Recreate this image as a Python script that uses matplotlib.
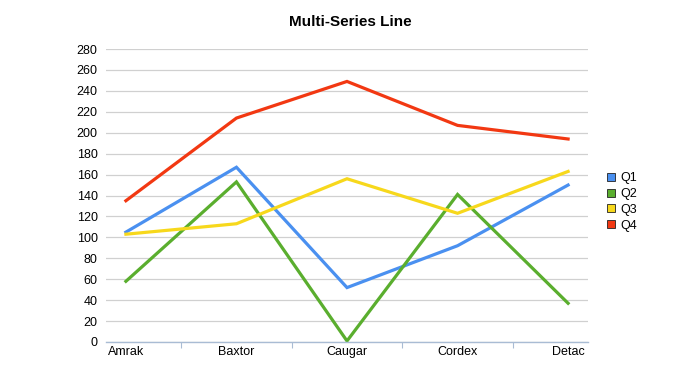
import numpy as np
import matplotlib.pyplot as plt
from matplotlib.lines import Line2D

plt.rcParams['font.family'] = ['Liberation Sans', 'DejaVu Sans']

categories = ['Amrak', 'Baxtor', 'Caugar', 'Cordex', 'Detac']
series_names = ['Q1', 'Q2', 'Q3', 'Q4']
q1 = [105, 167, 52, 92, 150]
q2 = [58, 153, 1, 141, 37]
q3 = [103, 113, 156, 123, 163]
q4 = [135, 214, 249, 207, 194]
colors = ['#4a90f0', '#5aae2e', '#f7d81c', '#f23812']

fig = plt.figure(figsize=(7, 3.75), dpi=100)
ax = fig.add_axes([106 / 700, 1 - 342 / 375, 482 / 700, 293 / 375])

x = np.arange(len(categories))
for vals, c, name in zip([q1, q2, q3, q4], colors, series_names):
    ax.plot(x, vals, color=c, linewidth=2.3, label=name, solid_joinstyle='miter')

ax.set_xlim(-0.18, len(categories) - 1 + 0.18)
ax.set_ylim(0, 280)
ax.set_yticks(np.arange(0, 281, 20))
ax.yaxis.grid(True, color='#d0d0d0', linewidth=0.9)
ax.set_axisbelow(True)
ax.tick_params(axis='y', length=0, labelsize=9, pad=6)

ax.set_xticks(x)
ax.set_xticklabels(categories)
ax.set_xticks(x[:-1] + 0.5, minor=True)
ax.tick_params(axis='x', which='major', length=0, labelsize=9, pad=3)
ax.tick_params(axis='x', which='minor', length=4, color='#a9bcd4', width=0.8)

for s in ['top', 'right', 'left']:
    ax.spines[s].set_visible(False)
ax.spines['bottom'].set_color('#a9bcd4')
ax.spines['bottom'].set_linewidth(1)

fig.text(0.5, 1 - 22 / 375, 'Multi-Series Line', ha='center', va='center',
         fontsize=11, fontweight='bold')

handles = [Line2D([], [], marker='s', linestyle='none', markersize=6,
                  markerfacecolor=c, markeredgecolor='#222222', markeredgewidth=0.6)
           for c in colors]
fig.legend(handles, series_names, loc='center left', bbox_to_anchor=(600 / 700, 1 - 202 / 375),
           frameon=False, fontsize=9, handlelength=0.8, handletextpad=0.3,
           labelspacing=0.3, borderpad=0)

fig.savefig('out.png', dpi=100)
